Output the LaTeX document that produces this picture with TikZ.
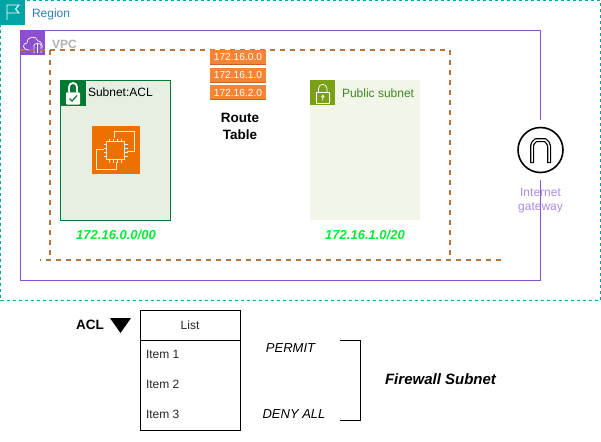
\documentclass[tikz,border=0pt]{standalone}
\usepackage{fontspec}
\setmainfont{Liberation Sans}
\definecolor{regionc}{HTML}{00A4A6}
\definecolor{vpcc}{HTML}{8C4FD0}
\definecolor{dashc}{HTML}{B8763F}
\definecolor{aclgreen}{HTML}{007A33}
\definecolor{aclfill}{HTML}{E6EFE2}
\definecolor{pubgreen}{HTML}{7AA116}
\definecolor{pubfill}{HTML}{F2F6E8}
\definecolor{pubtext}{HTML}{3F8624}
\definecolor{ec2}{HTML}{ED7100}
\definecolor{ec2line}{HTML}{FFE9D2}
\definecolor{routec}{HTML}{F58536}
\definecolor{routeb}{HTML}{C7622A}
\definecolor{cidr}{HTML}{00EE33}
\definecolor{gwtext}{HTML}{AF8AE6}
\definecolor{regtext}{HTML}{2F7FB0}
\tikzset{
  x=1pt,y=-1pt,
  every node/.style={outer sep=0pt},
  txt/.style={inner sep=0pt,font=\fontsize{12}{14}\selectfont,text=black!85},
  boldtxt/.style={txt,font=\fontsize{13.5}{17}\selectfont\bfseries,align=center,text=black},
  cidrtxt/.style={inner sep=0pt,font=\fontsize{13}{15}\selectfont\bfseries\itshape,text=cidr},
  ittxt/.style={inner sep=0pt,font=\fontsize{13}{15}\selectfont\itshape,text=black},
  routeitem/.style={fill=routec,text=white,minimum width=56pt,minimum height=14pt,inner sep=0pt,font=\fontsize{10.2}{12}\selectfont},
  dashln/.style={draw=dashc,line width=1.2pt,dash pattern=on 5pt off 5pt},
  regionbox/.style={draw=regionc,line width=1pt,dash pattern=on 3pt off 3pt},
  vpcbox/.style={draw=vpcc,line width=1pt},
  icowhite/.style={draw=white,line width=.9pt,fill=none},
  chipline/.style={draw=ec2line,line width=1pt,fill=none}
}
\begin{document}
\begin{tikzpicture}
\useasboundingbox (0,0) rectangle (601,441);
\fill[white] (0,0) rectangle (601,441);
% Region
\path[regionbox] (0.5,0.5) rectangle (600,300.5);
\node[fill=regionc,minimum size=25pt,inner sep=0pt,anchor=north west] (regionicon) at (0,0) {};
\draw[icowhite] (7,20) -- (7,5) -- (19,5) -- (15.5,9) -- (19,13) -- (7,13);
\node[txt,anchor=west,text=regtext] (regionlabel) at (32,14) {Region};
% VPC
\path[vpcbox] (20.5,30.5) rectangle (540.5,280.5);
\node[fill=vpcc,minimum size=25pt,inner sep=0pt,anchor=north west] (vpcicon) at (20,30) {};
\draw[icowhite,line width=.7pt] (29,50) .. controls (22,50) and (22,43) .. (27,43) .. controls (27,36) and (36,35) .. (38,41) .. controls (41,41) and (43,45) .. (42,48);
\draw[icowhite,line width=.7pt] (34,53) -- (34,45) .. controls (35,43) and (40,43) .. (41,45) -- (41,53) (37.5,44) -- (37.5,53);
\node[txt,anchor=west,text=black!30,font=\fontsize{12}{14}\selectfont\bfseries] (vpclabel) at (52,44) {VPC};
% Dashed frame
\coordinate (dtle) at (20,50);
\coordinate (dtl) at (50,50);
\coordinate (dtr) at (450,50);
\coordinate (dbl) at (50,260);
\coordinate (dbr) at (450,260);
\coordinate (dle) at (40,260);
\coordinate (dre) at (500.5,260);
\draw[dashln] (dtle) -- (dtr);
\draw[dashln] (dtl) -- (dbl);
\draw[dashln] (dtr) -- (dbr);
\draw[dashln] (dre) -- (dle);
% Subnet ACL
\node[draw=aclgreen,fill=aclfill,line width=1pt,minimum width=110pt,minimum height=140pt,inner sep=0pt,anchor=north west] (aclsub) at (60.5,80.5) {};
\node[fill=aclgreen,minimum size=25pt,inner sep=0pt,anchor=north west] (aclicon) at (60.5,80.5) {};
\fill[white,rounded corners=.8pt] (66,92.5) rectangle (80,104.5);
\draw[white,line width=1.8pt] (69,92.5) -- (69,87) arc (180:360:4) -- (77,92.5);
\draw[aclgreen,line width=1.2pt] (69.5,98.5) -- (72,101) -- (77,95.5);
\node[txt,anchor=west,text=black] (acllabel) at (88,92) {Subnet:ACL};
% EC2
\node[fill=ec2,minimum size=48pt,inner sep=0pt] (ec2icon) at (116,150) {};
\draw[chipline] (114,138) -- (114,131.5) -- (134.5,131.5) -- (134.5,151) -- (127,151);
\draw[chipline] (104,149.5) -- (96.5,149.5) -- (96.5,169) -- (116,169) -- (116,162);
\draw[chipline] (106.5,141.5) rectangle (124.5,159.5);
\foreach \t in {145,149,153,157}{
  \draw[chipline,line width=.8pt] (103.5,\t-.5) -- (106.5,\t-.5) (124.5,\t-.5) -- (127.5,\t-.5);
}
\foreach \t in {110,114,118,122}{
  \draw[chipline,line width=.8pt] (\t-.5,138.5) -- (\t-.5,141.5) (\t-.5,159.5) -- (\t-.5,162.5);
}
% Public subnet
\node[fill=pubfill,minimum width=110pt,minimum height=140pt,inner sep=0pt,anchor=north west] (pubsub) at (310,80) {};
\node[fill=pubgreen,minimum size=25pt,inner sep=0pt,anchor=north west] (pubicon) at (310,80) {};
\draw[icowhite,line width=.7pt] (316.5,92) rectangle (329,103);
\draw[icowhite,line width=.7pt] (318.5,92) -- (318.5,88.5) arc (180:360:4.2) -- (326.9,92);
\draw[icowhite,line width=.7pt] (322.8,96.5) circle (1.3) (322.8,97.8) -- (322.8,100.5);
\node[txt,anchor=west,text=pubtext] (publabel) at (342,93.5) {Public subnet};
% Route table
\node[routeitem] (r1) at (238,57) {172.16.0.0};
\node[routeitem] (r2) at (238,75) {172.16.1.0};
\node[routeitem] (r3) at (238,92.5) {172.16.2.0};
\draw[routeb,line width=.8pt] (r1.south west) -- (r1.south east);
\draw[routeb,line width=.8pt] (r2.south west) -- (r2.south east);
\draw[routeb,line width=.8pt] (r3.south west) -- (r3.south east);
\node[boldtxt] (routelabel) at (240,126) {Route\\Table};
% CIDRs
\node[cidrtxt] (cidra) at (116,235) {172.16.0.0/00};
\node[cidrtxt] (cidrb) at (365,235) {172.16.1.0/20};
% Gateway
\fill[white] (528,120) rectangle (553,127) (528,173) rectangle (553,180);
\node[draw=black,fill=white,line width=1.6pt,circle,minimum size=45pt,inner sep=0pt] (igw) at (540.5,150) {};
\draw[black,line width=4pt,line join=round] (532,163) -- (532,146) -- (533,143) -- (536,140) -- (545,140) -- (548,143) -- (549,146) -- (549,163);
\draw[white,line width=1.5pt,line join=round] (532,162.2) -- (532,146) -- (533,143) -- (536,140) -- (545,140) -- (548,143) -- (549,146) -- (549,162.2);
\node[inner sep=0pt,align=center,text=gwtext,font=\fontsize{12}{14}\selectfont] (igwlabel) at (540.5,201) {Internet\\gateway};
% List
\node[draw=black,line width=1pt,minimum width=100pt,minimum height=120pt,inner sep=0pt,anchor=north west] (listbox) at (140.5,310.5) {};
\coordinate (lineL) at (140.5,340.5);
\coordinate (lineR) at (240.5,340.5);
\draw[black,line width=1pt] (lineL) -- (lineR);
\node[txt] (listhead) at (190,325) {List};
\node[txt,anchor=west] (item1) at (146,354.5) {Item 1};
\node[txt,anchor=west] (item2) at (146,384.5) {Item 2};
\node[txt,anchor=west] (item3) at (146,414.5) {Item 3};
% ACL
\node[boldtxt] (acltxt) at (90,325) {ACL};
\fill[black] (110,318) -- (131,318) -- (120.5,333) -- cycle;
% Bracket
\coordinate (b1) at (340,340.5);
\coordinate (b2) at (360.5,340.5);
\coordinate (b3) at (360.5,420);
\coordinate (b4) at (340,420);
\draw[black,line width=1pt] (b1) -- (b2) -- (b3) -- (b4);
\node[ittxt] (permit) at (290.5,348) {PERMIT};
\node[ittxt] (deny) at (294,414) {DENY ALL};
\node[inner sep=0pt,font=\fontsize{15}{17}\selectfont\bfseries\itshape] (fw) at (440.5,379) {Firewall Subnet};
\end{tikzpicture}
\end{document}
